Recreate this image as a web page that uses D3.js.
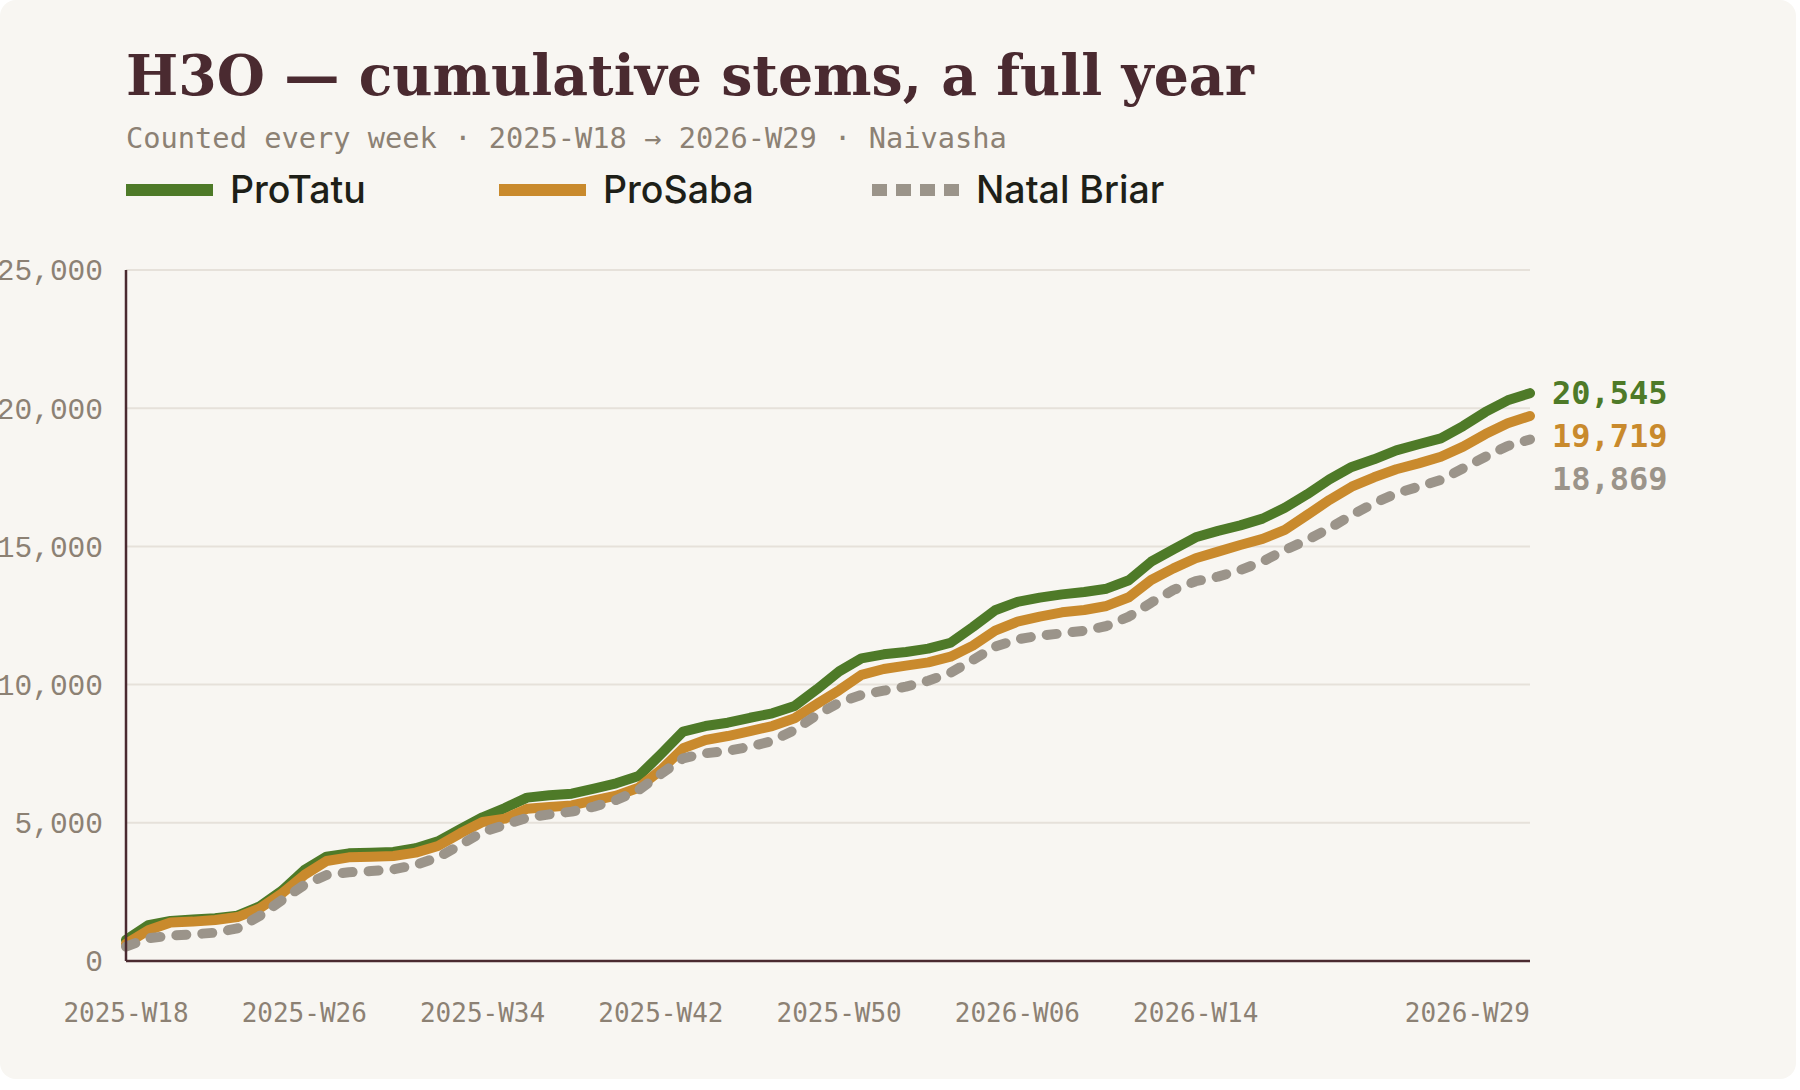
<!DOCTYPE html>
<html>
<head>
<meta charset="utf-8">
<script src="https://cdn.jsdelivr.net/npm/d3@7"></script>
<style>
  body { margin: 0; background: #ffffff; }
  svg { display: block; }
</style>
</head>
<body>
<div id="chart-area"></div>
<script>
/*
*    cumulative stems chart
*/

var weeks = [
  "2025-W18","2025-W19","2025-W20","2025-W21","2025-W22","2025-W23","2025-W24","2025-W25",
  "2025-W26","2025-W27","2025-W28","2025-W29","2025-W30","2025-W31","2025-W32","2025-W33",
  "2025-W34","2025-W35","2025-W36","2025-W37","2025-W38","2025-W39","2025-W40","2025-W41",
  "2025-W42","2025-W43","2025-W44","2025-W45","2025-W46","2025-W47","2025-W48","2025-W49",
  "2025-W50","2025-W51","2025-W52","2026-W01","2026-W02","2026-W03","2026-W04","2026-W05",
  "2026-W06","2026-W07","2026-W08","2026-W09","2026-W10","2026-W11","2026-W12","2026-W13",
  "2026-W14","2026-W15","2026-W16","2026-W17","2026-W18","2026-W19","2026-W20","2026-W21",
  "2026-W22","2026-W23","2026-W24","2026-W25","2026-W26","2026-W27","2026-W28","2026-W29"
];

var proTatu = [
  760, 1300, 1450, 1500, 1545, 1640, 1980, 2545,
  3290, 3775, 3895, 3920, 3945, 4080, 4330, 4775,
  5200, 5535, 5910, 5995, 6055, 6235, 6430, 6690,
  7480, 8300, 8500, 8620, 8800, 8960, 9225, 9830,
  10480, 10950, 11095, 11180, 11300, 11515, 12085, 12690,
  12990, 13145, 13265, 13350, 13470, 13775, 14445, 14895,
  15330, 15560, 15760, 16005, 16400, 16885, 17425, 17875,
  18150, 18475, 18695, 18910, 19355, 19865, 20285, 20545
];

var proSaba = [
  620, 1110, 1390, 1425, 1485, 1590, 1905, 2450,
  3110, 3620, 3750, 3775, 3800, 3920, 4160, 4620,
  5030, 5150, 5510, 5570, 5630, 5810, 5980, 6270,
  6910, 7695, 7995, 8140, 8320, 8500, 8780, 9300,
  9800, 10350, 10565, 10685, 10805, 11010, 11410, 11950,
  12275, 12460, 12615, 12700, 12845, 13160, 13785, 14205,
  14570, 14810, 15050, 15270, 15595, 16135, 16680, 17160,
  17500, 17790, 18005, 18245, 18610, 19065, 19455, 19719
];

var natalBriar = [
  520, 820, 915, 965, 1025, 1180, 1630, 2205,
  2750, 3110, 3210, 3255, 3315, 3475, 3750, 4195,
  4670, 4920, 5185, 5305, 5405, 5585, 5825, 6185,
  6765, 7335, 7515, 7600, 7755, 7960, 8360, 8900,
  9350, 9625, 9780, 9925, 10140, 10430, 10890, 11375,
  11640, 11770, 11855, 11950, 12120, 12460, 12965, 13425,
  13740, 13905, 14145, 14450, 14870, 15230, 15655, 16135,
  16560, 16920, 17160, 17405, 17825, 18245, 18635, 18869
];

var seriesNames = ["ProTatu", "ProSaba", "Natal Briar"];
var seriesColors = ["#4e7a28", "#c98a2d", "#9b948a"];
var xTickLabels = ["2025-W18","2025-W26","2025-W34","2025-W42","2025-W50","2026-W06","2026-W14","2026-W29"];
var yTickValues = [0, 5000, 10000, 15000, 20000, 25000];

var series = [proTatu, proSaba, natalBriar].map((vals, k) => {
    return { name: seriesNames[k], color: seriesColors[k], dashed: k === 2, values: vals };
});

var width = 1800;
var height = 1090;
var plotLeft = 126, plotRight = 1530, plotTop = 270, plotBottom = 961;

var svg = d3.select("#chart-area").append("svg")
	.attr("width", width)
	.attr("height", height);

// card background
svg.append("rect")
    .attr("x", 0)
    .attr("y", 0)
    .attr("width", 1796)
    .attr("height", 1079)
    .attr("rx", 16)
    .attr("fill", "#f8f6f2");

var x = d3.scaleLinear().domain([0, weeks.length - 1]).range([plotLeft, plotRight]);
var y = d3.scaleLinear().domain([0, 25000]).range([plotBottom, plotTop]);

// title + subtitle
svg.append("text")
    .attr("x", 126)
    .attr("y", 95)
    .attr("font-family", "'DejaVu Serif', serif")
    .attr("font-weight", "bold")
    .attr("font-size", 55.3)
    .attr("fill", "#4a2a30")
    .text("H3O — cumulative stems, a full year");

svg.append("text")
    .attr("x", 126)
    .attr("y", 148)
    .attr("font-family", "'DejaVu Sans Mono', monospace")
    .attr("font-size", 28.7)
    .attr("fill", "#8c8174")
    .text("Counted every week · 2025-W18 → 2026-W29 · Naivasha");

// legend
var legend = svg.selectAll(".legend").data(series).enter().append("g")
    .attr("class", "legend")
    .attr("transform", (d, i) => "translate(" + (126 + i * 373) + ",190)");

legend.append("line")
    .attr("x1", 0).attr("x2", 87)
    .attr("y1", 0).attr("y2", 0)
    .attr("stroke", (d) => d.color)
    .attr("stroke-width", 12)
    .attr("stroke-dasharray", (d) => d.dashed ? "15 9" : null);

legend.append("text")
    .attr("x", 104)
    .attr("y", 0)
    .attr("dy", "0.35em")
    .attr("font-family", "Inter, sans-serif")
    .attr("font-weight", 500)
    .attr("font-size", 37.5)
    .attr("fill", "#1e1f18")
    .text((d) => d.name);

// gridlines
svg.append("g").selectAll("line").data(yTickValues.filter((v) => v > 0)).enter().append("line")
    .attr("x1", plotLeft).attr("x2", plotRight)
    .attr("y1", (d) => y(d)).attr("y2", (d) => y(d))
    .attr("stroke", "#e6e1da")
    .attr("stroke-width", 2);

// y axis labels
svg.append("g").selectAll("text").data(yTickValues).enter().append("text")
    .attr("x", 103)
    .attr("y", (d) => y(d))
    .attr("dy", "0.35em")
    .attr("text-anchor", "end")
    .attr("font-family", "'Liberation Mono', monospace")
    .attr("font-size", 29.5)
    .attr("fill", "#8c8174")
    .text((d) => d3.format(",")(d));

// x axis labels
svg.append("g").selectAll("text").data(xTickLabels).enter().append("text")
    .attr("x", (d) => x(weeks.indexOf(d)))
    .attr("y", 1013)
    .attr("dy", "0.35em")
    .attr("text-anchor", (d, i) => i === xTickLabels.length - 1 ? "end" : "middle")
    .attr("font-family", "'DejaVu Sans Mono', monospace")
    .attr("font-size", 26)
    .attr("fill", "#8c8174")
    .text((d) => d);

// lines
var line = d3.line()
    .x((d, i) => x(i))
    .y((d) => y(d));

svg.append("g").selectAll("path").data(series).enter().append("path")
    .attr("d", (d) => line(d.values))
    .attr("fill", "none")
    .attr("stroke", (d) => d.color)
    .attr("stroke-width", 10)
    .attr("stroke-linecap", "round")
    .attr("stroke-linejoin", "round")
    .attr("stroke-dasharray", (d) => d.dashed ? "10 16" : null);

// axes lines
svg.append("line")
    .attr("x1", plotLeft).attr("x2", plotLeft)
    .attr("y1", plotTop).attr("y2", plotBottom)
    .attr("stroke", "#4a2a30")
    .attr("stroke-width", 2.5);
svg.append("line")
    .attr("x1", plotLeft).attr("x2", plotRight)
    .attr("y1", plotBottom).attr("y2", plotBottom)
    .attr("stroke", "#4a2a30")
    .attr("stroke-width", 2.5);

// end labels, nudged apart
var prevY = -Infinity;
series.forEach((s) => {
    var last = s.values[s.values.length - 1];
    var ly = Math.max(y(last), prevY + 43);
    prevY = ly;
    svg.append("text")
        .attr("x", 1552)
        .attr("y", ly)
        .attr("dy", "0.35em")
        .attr("font-family", "'DejaVu Sans Mono', monospace")
        .attr("font-weight", "bold")
        .attr("font-size", 32)
        .attr("fill", s.color)
        .text(d3.format(",")(last));
});
</script>
</body>
</html>
